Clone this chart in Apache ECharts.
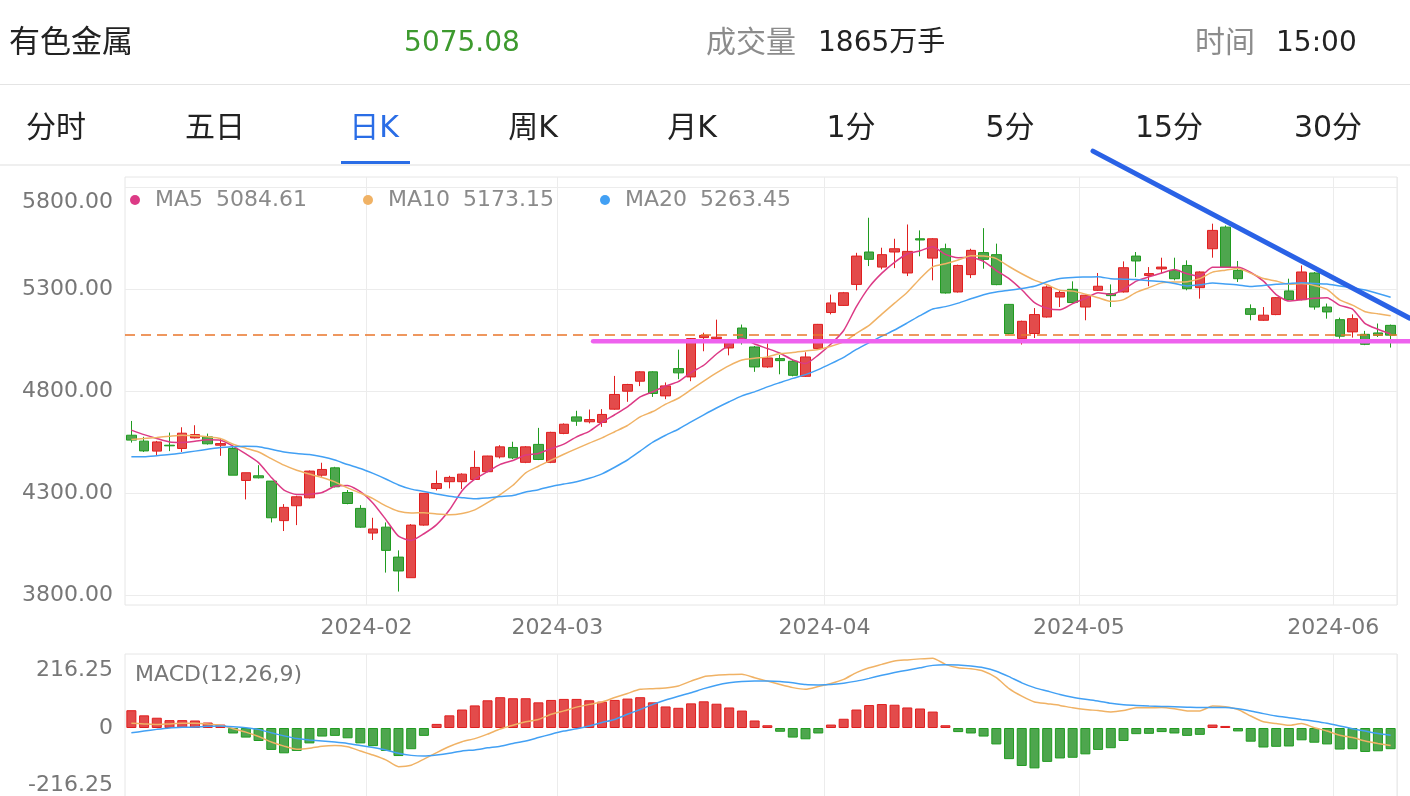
<!DOCTYPE html>
<html><head><meta charset="utf-8">
<script src="https://cdn.jsdelivr.net/npm/echarts@6/dist/echarts.min.js"></script>
<style>html,body{margin:0;padding:0;background:#fff;}#c{width:1410px;height:796px;}</style>
</head><body><div id="c"></div>
<script>
// ---------- data ----------
const months = ['2024-01','2024-02','2024-03','2024-04','2024-05','2024-06'];
const tradingDays = [
  [5,8,9,10,11,12,15,16,17,18,19,22,23,24,25,26,29,30,31],
  [1,2,5,6,7,8,19,20,21,22,23,26,27,28,29],
  [1,4,5,6,7,8,11,12,13,14,15,18,19,20,21,22,25,26,27,28,29],
  [1,2,3,8,9,10,11,12,15,16,17,18,19,22,23,24,25,26,29,30],
  [6,7,8,9,10,13,14,15,16,17,20,21,22,23,24,27,28,29,30,31],
  [3,4,5,6,7]
];
const open = [4584,4555,4506,4535,4519,4571,4576,4535,4519,4362, 4385,4359,4165,4238,4277,4388,4424,4303,4225,4104,
  4133,3986,3885,4143,4323,4356,4356,4367,4405,4478, 4524,4451,4539,4451,4593,4674,4650,4647,4712,4800,
  4849,4895,4777,4911,4870,5063,5058,5012,5110,5017, 4919,4960,4947,4873,5010,5186,5221,5324,5483,5409,
  5483,5380,5548,5453,5499,5287,5372,5480,5470,5226, 5058,5083,5164,5262,5300,5213,5295,5279,5287,5463,
  5368,5400,5393,5417,5308,5499,5605,5393,5205,5148, 5176,5292,5249,5380,5213,5151,5091,5079,5086,5123];
const close = [4560,4507,4551,4532,4594,4587,4542,4543,4388,4400, 4375,4179,4230,4282,4408,4416,4331,4249,4133,4124,
  4019,3918,4143,4299,4347,4377,4393,4426,4482,4527, 4473,4527,4465,4598,4638,4653,4661,4686,4784,4833,
  4895,4789,4826,4890,5058,5074,5065,5042,5058,4919, 4963,4950,4878,4968,5128,5233,5283,5463,5447,5470,
  5499,5486,5542,5548,5282,5417,5491,5447,5323,5083, 5143,5176,5311,5284,5235,5271,5315,5269,5406,5439,
  5377,5409,5352,5303,5385,5589,5409,5352,5177,5173, 5259,5249,5385,5213,5189,5070,5156,5030,5074,5075.08];
const low = [4548,4502,4486,4506,4502,4568,4538,4483,4388,4269, 4372,4156,4114,4143,4274,4380,4328,4245,4130,4070,
  3910,3817,3885,4140,4313,4323,4320,4364,4402,4470, 4467,4447,4462,4447,4589,4630,4642,4625,4709,4748,
  4825,4772,4761,4859,4849,4996,5055,4976,5029,4895, 4915,4883,4873,4870,5005,5177,5218,5295,5414,5398,
  5404,5365,5462,5344,5279,5284,5355,5401,5320,5079, 5029,5061,5161,5213,5230,5148,5292,5213,5284,5360,
  5315,5377,5344,5295,5254,5455,5406,5336,5148,5145, 5173,5246,5246,5200,5156,5058,5063,5026,5066,5014];
const high = [4654,4576,4556,4597,4623,4633,4592,4568,4527,4400, 4437,4359,4246,4287,4411,4449,4429,4315,4241,4179,
  4156,4019,4148,4299,4411,4385,4397,4508,4483,4535, 4552,4531,4620,4601,4642,4704,4710,4712,4875,4836,
  4898,4898,4843,5004,5061,5087,5151,5050,5127,5022, 5034,4978,4952,4991,5130,5274,5287,5479,5651,5504,
  5548,5618,5589,5551,5524,5421,5499,5600,5524,5228, 5146,5208,5319,5295,5339,5274,5380,5324,5437,5483,
  5409,5455,5455,5442,5388,5622,5613,5439,5226,5213, 5262,5352,5417,5385,5230,5161,5177,5096,5132,5127];
// MA values for the first candles (window not yet full)
const ma5Lead = [4609,4587,4568,4551];
const ma10Lead = [4563,4568,4573,4579,4584,4581,4576,4568,4540];
const ma20Lead = [4478,4478,4483,4489,4497,4506,4515,4524,4528,4530,4528,4515,4502,4494,4489,4478,4462,4440,4421];
const legendNames = ['MA5','MA10','MA20'];
const legendValues = ['5084.61','5173.15','5263.45'];
// MACD(12,26,9)
const dif = [14,12,10,12,14,14,12,8,-2,-12, -25,-41,-53,-62,-59,-53,-51,-55,-67,-79,
  -93,-113,-109,-91,-72,-54,-40,-31,-18,-3, 8,18,25,40,50,61,69,76,89,101,
  113,115,117,123,137,150,154,156,157,147, 137,127,118,113,121,130,142,162,176,186,
  196,199,202,204,186,176,173,166,147,115, 93,76,71,66,59,54,51,47,51,59,
  59,60,56,50,50,64,62,54,35,18, 13,8,13,1,-9,-21,-28,-38,-45,-51];
const dea = [-14,-9,-4,0,2,3,5,6,4,1, -4,-14,-23,-31,-35,-38,-41,-45,-51,-57,
  -64,-74,-80,-82,-79,-74,-67,-64,-58,-53, -45,-38,-28,-18,-9,-2,6,16,25,40,
  54,69,82,93,103,115,125,132,136,137, 137,136,132,127,126,127,131,137,145,154,
  162,169,176,183,185,184,181,176,166,150, 132,118,108,98,90,84,79,72,68,66,
  64,63,62,61,60,60,60,56,50,42, 35,30,25,20,14,6,-2,-9,-16,-21];
const hist = [52,37,30,23,23,22,16,10,-16,-28, -38,-64,-74,-67,-45,-25,-23,-30,-45,-53,
  -67,-82,-62,-23,12,37,54,66,81,90, 87,87,75,82,85,85,81,77,82,86,
  90,75,63,59,72,78,71,60,51,22, 8,-11,-28,-33,-16,10,27,54,67,70,
  68,60,57,48,8,-12,-16,-25,-48,-91, -111,-118,-99,-89,-87,-77,-64,-59,-38,-18,
  -17,-12,-16,-23,-20,10,6,-10,-40,-57, -55,-54,-36,-43,-48,-63,-62,-70,-68,-62];
const priceTicks = [3800,4300,4800,5300,5800];
const macdTicks = [-216.25,0,216.25];
const lastPrice = 5075.08;
const headerTexts = ['有色金属','5075.08','成交量','1865万手','时间','15:00'];
const tabs = ['分时','五日','日K','周K','月K','1分','5分','15分','30分'];
// hand-drawn annotations, in (candle index, price) space
const trendLine = [[75.6,5978],[100.5,5158]];
const supportLine = [[36.3,5045],[100.5,5045]];

// ---------- build ----------
const dates = [];
months.forEach((m,k)=>tradingDays[k].forEach(d=>dates.push(m+'-'+String(d).padStart(2,'0'))));
const isMonthStart = i => i>0 && dates[i].slice(0,7)!==dates[i-1].slice(0,7);
const candles = dates.map((d,i)=>[open[i],close[i],low[i],high[i]]);
function movingAverage(n, lead){
  return close.map((c,i)=> i<n-1 ? lead[i] : +(close.slice(i-n+1,i+1).reduce((a,b)=>a+b,0)/n).toFixed(2));
}
const RED='#e34b4b', RED_B='#e01f1f', GREEN='#4ea64e', GREEN_B='#1f9b1f';
const C_MA5='#dc3a86', C_MA10='#f0b265', C_MA20='#42a0f4';
const FONT='"DejaVu Sans", "Noto Sans CJK SC", sans-serif';
const GRID_LINE='#ececec';

const chart = echarts.init(document.getElementById('c'), null, {renderer:'canvas'});

function legendOf(k, left){
  return {
    data:[legendNames[k]], left:left, top:189, padding:0, icon:'circle', itemWidth:10, itemHeight:10,
    selectedMode:false,
    formatter: n => '{n|'+n+'}{v|'+legendValues[k]+'}',
    textStyle:{ rich:{
      n:{fontSize:22, fontFamily:FONT, color:'#8a8a8a', padding:[0,0,0,10]},
      v:{fontSize:22, fontFamily:FONT, color:'#8a8a8a', padding:[0,0,0,13]}
    }}
  };
}

const option = {
  animation:false,
  backgroundColor:'#fff',
  legend:[legendOf(0,130), legendOf(1,363), legendOf(2,600)],
  grid:[
    {left:125, right:13, top:177, height:428, show:true, borderColor:'#e6e6e6', borderWidth:1, outerBoundsMode:'none', containLabel:false},
    {left:125, right:13, top:654, height:148, show:true, borderColor:'#e6e6e6', borderWidth:1, outerBoundsMode:'none', containLabel:false}
  ],
  xAxis:[
    {type:'category', gridIndex:0, data:dates, boundaryGap:true,
     axisLine:{show:false}, axisTick:{show:false},
     axisLabel:{interval:(i)=>isMonthStart(i), formatter:v=>v.slice(0,7), color:'#777', fontSize:22, fontFamily:FONT, margin:12, padding:[0,13,0,0]},
     splitLine:{show:true, interval:(i)=>isMonthStart(i), lineStyle:{color:GRID_LINE, width:1}}},
    {type:'category', gridIndex:1, data:dates, boundaryGap:true,
     axisLine:{show:false}, axisTick:{show:false}, axisLabel:{show:false},
     splitLine:{show:true, interval:(i)=>isMonthStart(i), lineStyle:{color:GRID_LINE, width:1}}}
  ],
  yAxis:[
    {type:'value', gridIndex:0, min:3751, max:5851, scale:true,
     axisLine:{show:false}, axisTick:{show:false, customValues:priceTicks},
     axisLabel:{customValues:priceTicks, margin:12, color:'#777', fontSize:22, fontFamily:FONT,
       formatter:v => v===priceTicks[priceTicks.length-1] ? '{t|'+v.toFixed(2)+'}' : v.toFixed(2),
       rich:{t:{fontSize:22, fontFamily:FONT, color:'#777', padding:[30,0,0,0]}}},
     splitLine:{show:true, lineStyle:{color:GRID_LINE, width:1}}},
    {type:'value', gridIndex:1, min:macdTicks[0], max:macdTicks[2],
     axisLine:{show:false}, axisTick:{show:false, customValues:macdTicks},
     axisLabel:{customValues:macdTicks, margin:12, color:'#777', fontSize:22, fontFamily:FONT,
       formatter:v => v===macdTicks[2] ? '{t|'+v+'}' : (v===macdTicks[0] ? '{b|'+v+'}' : String(v)),
       rich:{t:{fontSize:22, fontFamily:FONT, color:'#777', padding:[32,0,0,0]},
             b:{fontSize:22, fontFamily:FONT, color:'#777', padding:[0,0,34,0]}}},
     splitLine:{show:false}}
  ],
  series:[
    {name:'K', type:'candlestick', xAxisIndex:0, yAxisIndex:0, data:candles, barWidth:10,
     itemStyle:{color:RED, color0:GREEN, borderColor:RED_B, borderColor0:GREEN_B, borderWidth:1},
     markLine:{silent:true, symbol:['none','none'], label:{show:false}, z:10,
       lineStyle:{color:'#e9762b', width:1.5, type:[10,6]}, data:[{yAxis:lastPrice}]}},
    {name:'MA5', type:'line', xAxisIndex:0, yAxisIndex:0, data:movingAverage(5,ma5Lead), symbol:'none', smooth:0.2,
     lineStyle:{color:C_MA5, width:1.5}, itemStyle:{color:C_MA5}, z:5},
    {name:'MA10', type:'line', xAxisIndex:0, yAxisIndex:0, data:movingAverage(10,ma10Lead), symbol:'none', smooth:0.2,
     lineStyle:{color:C_MA10, width:1.5}, itemStyle:{color:C_MA10}, z:5},
    {name:'MA20', type:'line', xAxisIndex:0, yAxisIndex:0, data:movingAverage(20,ma20Lead), symbol:'none', smooth:0.2,
     lineStyle:{color:C_MA20, width:1.5}, itemStyle:{color:C_MA20}, z:5},
    {name:'MACD', type:'bar', xAxisIndex:1, yAxisIndex:1, barWidth:10,
     data:hist.map(v=>({value:v, itemStyle:{color: v>=0?RED:GREEN, borderColor: v>=0?RED_B:GREEN_B, borderWidth:1}}))},
    {name:'DIF', type:'line', xAxisIndex:1, yAxisIndex:1, data:dif, symbol:'none', smooth:0.2,
     lineStyle:{color:C_MA10, width:1.5}, z:5},
    {name:'DEA', type:'line', xAxisIndex:1, yAxisIndex:1, data:dea, symbol:'none', smooth:0.2,
     lineStyle:{color:C_MA20, width:1.5}, z:5}
  ]
};
chart.setOption(option);

// ---------- header / tabs / annotations as graphic ----------
function txt(id, text, x, y, size, fill, align){
  return {type:'text', id:id, x:x, y:y, z:50,
    style:{text:text, fill:fill, font:size+'px '+FONT, align:align||'left', verticalAlign:'middle',
           textAlign:align||'left', textVerticalAlign:'middle'}};
}
const g = [];
g.push(txt('h0', headerTexts[0], 9, 44, 31, '#222'));
g.push(txt('h1', headerTexts[1], 462, 44, 28, '#3d9a2e', 'center'));
g.push(txt('h2', headerTexts[2], 706, 44, 30, '#8c8c8c'));
g.push(txt('h3', headerTexts[3], 818, 44, 28, '#222'));
g.push(txt('h4', headerTexts[4], 1195, 44, 30, '#8c8c8c'));
g.push(txt('h5', headerTexts[5], 1276, 44, 28, '#222'));
g.push({type:'rect', id:'sep1', z:50, shape:{x:0, y:84, width:1410, height:1}, style:{fill:'#e4e4e4'}});
tabs.forEach((t,k)=>g.push(txt('t'+k, t, 56+159*k, 129, 30, k===2?'#2a6de6':'#222', 'center')));
g.push({type:'rect', id:'ul', z:50, shape:{x:341, y:161, width:69, height:3}, style:{fill:'#2a6de6'}});
g.push({type:'rect', id:'sep2', z:49, shape:{x:0, y:164, width:1410, height:2}, style:{fill:'#efefef'}});
g.push(txt('macd', 'MACD(12,26,9)', 135, 675, 22, '#777'));

const x0 = chart.convertToPixel({xAxisIndex:0}, 0);
const x99 = chart.convertToPixel({xAxisIndex:0}, dates.length-1);
const toX = idx => x0 + (x99-x0)*idx/(dates.length-1);
const toY = p => chart.convertToPixel({yAxisIndex:0}, p);
function seg(id, pts, color, w){
  return {type:'line', id:id, z:100, shape:{x1:toX(pts[0][0]), y1:toY(pts[0][1]), x2:toX(pts[1][0]), y2:toY(pts[1][1])},
    style:{stroke:color, lineWidth:w, lineCap:'round'}};
}
g.push(seg('support', supportLine, '#ee62ee', 4.5));
g.push(seg('trend', trendLine, '#2a62e6', 5));
chart.setOption({graphic:{elements:g}});
</script>
</body></html>
